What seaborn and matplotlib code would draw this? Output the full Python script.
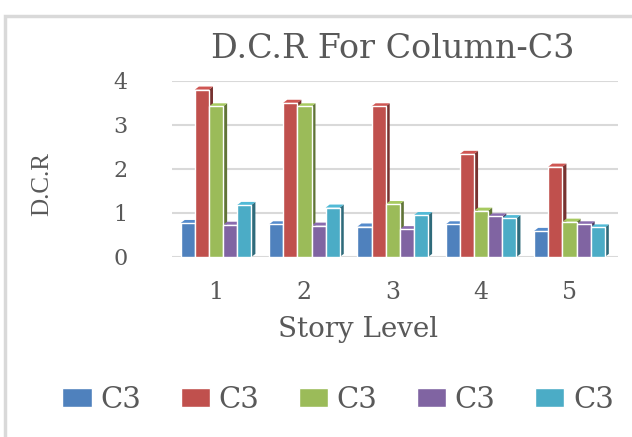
import numpy as np
import pandas as pd
import matplotlib
matplotlib.use("Agg")
from matplotlib import pyplot as plt
from matplotlib.patches import Polygon, Rectangle
from matplotlib.colors import to_rgb
import seaborn as sns

# story levels and the five C3 series
story_levels = ["1", "2", "3", "4", "5"]
series_labels = ["C3", "C3", "C3", "C3", "C3"]
s1 = [0.77, 0.74, 0.69, 0.74, 0.59]
s2 = [3.80, 3.50, 3.42, 2.34, 2.05]
s3 = [3.42, 3.42, 1.20, 1.05, 0.80]
s4 = [0.73, 0.71, 0.63, 0.92, 0.74]
s5 = [1.18, 1.12, 0.95, 0.88, 0.67]
palette = ["#4F81BD", "#C0504D", "#9BBB59", "#8064A2", "#4BACC6"]

series = [s1, s2, s3, s4, s5]
rows = []
for i, vals in enumerate(series):
    for lvl, v in zip(story_levels, vals):
        rows.append({"level": lvl, "series": i, "dcr": v})
df = pd.DataFrame(rows)

sns.set_style("white")
plt.rcParams["font.family"] = ["DejaVu Serif"]
text_col = "#595959"

fig = plt.figure(figsize=(6.32, 4.37), dpi=100)
ax = fig.add_axes([0.272, 0.412, 0.706, 0.403])

sns.barplot(data=df, x="level", y="dcr", hue="series", palette=palette,
            width=0.8, saturation=1, ax=ax, zorder=2)

# fake 3D: side and top faces computed from the drawn bars
d, dy = 0.045, 0.07
for patch in list(ax.patches):
    x, w, h = patch.get_x(), patch.get_width(), patch.get_height()
    if w == 0:
        continue
    c = np.array(to_rgb(patch.get_facecolor()))
    side = Polygon([(x + w, 0), (x + w + d, dy), (x + w + d, h + dy), (x + w, h)],
                   closed=True, facecolor=c * 0.62, edgecolor="none", zorder=1.5)
    top = Polygon([(x, h), (x + w, h), (x + w + d, h + dy), (x + d, h + dy)],
                  closed=True, facecolor=np.minimum(c * 1.08, 1), edgecolor="none", zorder=1.6)
    ax.add_patch(side)
    ax.add_patch(top)

ax.set_ylim(0, 4)
ax.set_xlim(-0.5, 4.55)
ax.set_yticks([0, 1, 2, 3, 4])
ax.yaxis.grid(True, color="#d9d9d9", linewidth=1.5)
ax.set_axisbelow(True)
for sp in ax.spines.values():
    sp.set_visible(False)
ax.tick_params(axis="y", length=0, pad=32, labelsize=16, labelcolor=text_col)
ax.tick_params(axis="x", length=0, pad=17, labelsize=17, labelcolor=text_col)

ax.set_xlabel("Story Level", fontsize=20, color=text_col)
ax.xaxis.set_label_coords(0.417, -0.335)
ax.set_ylabel("D.C.R", fontsize=18, color=text_col, family="Liberation Serif")
ax.yaxis.set_label_coords(-0.267, 0.415)
fig.text(0.622, 0.888, "D.C.R For Column-C3", fontsize=24, color=text_col,
         ha="center", va="center")

handles, _ = ax.get_legend_handles_labels()
ax.legend(handles, series_labels, loc="center", bbox_to_anchor=(0.535, 0.085),
          bbox_transform=fig.transFigure, ncol=5, frameon=False, fontsize=21,
          handlelength=1.0, handleheight=0.6, handletextpad=0.3, columnspacing=1.35,
          labelcolor=text_col)

# chart area border (left and top visible)
fig.patches.append(Rectangle((5 / 632, -0.1), 1.2, (437 - 16) / 437 + 0.1,
                             transform=fig.transFigure, fill=False,
                             edgecolor="#d9d9d9", linewidth=2.5))

fig.savefig("out.png", dpi=100)
